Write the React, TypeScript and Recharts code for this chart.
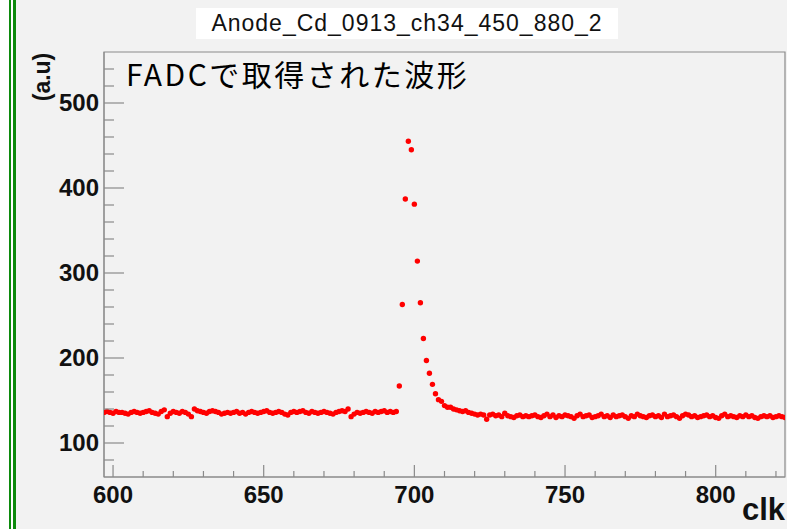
import { ScatterChart, Scatter, XAxis, YAxis, ReferenceArea } from "recharts";

// FADC samples, one per clock, starting at clk 597
const firstClk = 597;
const adc = [
  136, 137, 136, 135, 137, 136, 136, 135, 134, 136,
  137, 136, 135, 136, 137, 138, 136, 135, 134, 137,
  139, 131, 135, 137, 136, 135, 137, 136, 134, 131,
  140, 138, 137, 136, 135, 137, 138, 137, 136, 134,
  135, 136, 135, 136, 137, 135, 136, 134, 136, 137,
  136, 135, 136, 137, 138, 136, 135, 136, 137, 136,
  134, 133, 136, 137, 136, 137, 138, 136, 135, 137,
  136, 135, 136, 137, 136, 135, 134, 136, 137, 138,
  137, 140, 131, 134, 136, 135, 136, 137, 136, 135,
  137, 136, 137, 138, 136, 137, 136, 137, 167, 263,
  387, 455, 445, 381, 314, 265, 223, 197, 182, 169,
  158, 151, 149, 144, 142, 142, 140, 139, 138, 137,
  138, 136, 135, 134, 133, 134, 133, 128, 133, 134,
  132, 133, 131, 135, 132, 131, 130, 132, 133, 131,
  132, 131, 132, 133, 131, 130, 132, 134, 131, 133,
  130, 132, 131, 133, 132, 131, 129, 132, 134, 131,
  132, 133, 130, 131, 132, 134, 131, 132, 130, 133,
  131, 132, 133, 131, 129, 132, 131, 134, 132, 131,
  130, 132, 133, 131, 132, 130, 134, 131, 132, 133,
  131, 129, 132, 134, 133, 131, 132, 130, 131, 132,
  133, 131, 132, 130, 129, 132, 134, 131, 132, 131,
  130, 132, 131, 133, 131, 132, 130, 129, 131, 132,
  131, 132, 130, 131, 132, 131, 130,
];

const xTicks = [600, 610, 620, 630, 640, 650, 660, 670, 680, 690, 700, 710, 720, 730, 740, 750, 760, 770, 780, 790, 800, 810, 820];
const yTicks = [80, 100, 120, 140, 160, 180, 200, 220, 240, 260, 280, 300, 320, 340, 360, 380, 400, 420, 440, 460, 480, 500, 520, 540];

const data = adc.map((v, i) => ({ clk: firstClk + i, adc: v }));

const axisColor = "#8a8a8a";
const labelFont = "'Liberation Sans', Arial, sans-serif";

const YTick = (props: any) => {
  const { x, y, payload } = props;
  const major = payload.value % 100 === 0;
  return (
    <g>
      <line x1={x} x2={x + (major ? 20 : 10)} y1={y} y2={y} stroke={axisColor} strokeWidth={1.2} />
      {major && (
        <text x={x - 5} y={y + 8} textAnchor="end" fontFamily={labelFont} fontWeight="bold" fontSize={24} fill="#111">
          {payload.value}
        </text>
      )}
    </g>
  );
};

const XTick = (props: any) => {
  const { x, y, payload } = props;
  const major = payload.value % 50 === 0;
  return (
    <g>
      <line x1={x} x2={x} y1={y} y2={y - (major ? 12 : 6)} stroke={axisColor} strokeWidth={1.2} />
      {major && (
        <text x={x} y={y + 26} textAnchor="middle" fontFamily={labelFont} fontWeight="bold" fontSize={24} fill="#111">
          {payload.value}
        </text>
      )}
    </g>
  );
};

const App = () => {
  return (
    <div style={{ position: "absolute", left: 0, top: 0, width: 787, height: 529, background: "#f2f2f2", overflow: "hidden" }}>
      {/* green frame strip on the left */}
      <div style={{ position: "absolute", left: 0, top: 0, width: 16, height: 529, background: "#fff" }} />
      <div style={{ position: "absolute", left: 9, top: 0, width: 2, height: 529, background: "#0c8a0c" }} />
      <div style={{ position: "absolute", left: 13, top: 0, width: 3, height: 529, background: "#0c8a0c" }} />

      <ScatterChart width={787} height={529} margin={{ top: 52, right: 2, left: 0, bottom: 0 }}>
        <XAxis
          type="number"
          dataKey="clk"
          domain={[597, 823]}
          ticks={xTicks}
          interval={0}
          height={52}
          tickSize={0}
          tickMargin={0}
          tick={<XTick />}
          axisLine={{ stroke: axisColor }}
          allowDataOverflow
        />
        <YAxis
          type="number"
          dataKey="adc"
          domain={[60, 560]}
          ticks={yTicks}
          interval={0}
          width={104}
          tickSize={0}
          tickMargin={0}
          tick={<YTick />}
          axisLine={{ stroke: axisColor }}
          allowDataOverflow
        />
        <ReferenceArea x1={597} x2={823} y1={60} y2={560} fill="none" stroke={axisColor} strokeWidth={1.2} />
        <Scatter
          data={data}
          isAnimationActive={false}
          shape={(p: any) => <circle cx={p.cx} cy={p.cy} r={2.7} fill="#ff0000" />}
        />
      </ScatterChart>

      <div
        style={{
          position: "absolute", left: 196, top: 8, width: 422, height: 31, background: "#fff",
          fontFamily: labelFont, fontSize: 23, letterSpacing: 1, lineHeight: "31px", textAlign: "center", color: "#111",
        }}
      >
        Anode_Cd_0913_ch34_450_880_2
      </div>

      <div
        style={{
          position: "absolute", left: 126, top: 58, fontFamily: "'Noto Sans CJK JP', sans-serif",
          fontSize: 30, lineHeight: "30px", letterSpacing: 2.5, color: "#000", whiteSpace: "nowrap",
        }}
      >
        FADCで取得された波形
      </div>

      <div
        style={{
          position: "absolute", left: 42, top: 77, transform: "translate(-50%, -50%) rotate(-90deg)",
          fontFamily: labelFont, fontWeight: "bold", fontSize: 23, color: "#111", whiteSpace: "nowrap",
        }}
      >
        (a.u)
      </div>

      <div
        style={{
          position: "absolute", right: 2, top: 494, fontFamily: labelFont, fontWeight: "bold",
          fontSize: 31, lineHeight: "31px", color: "#111",
        }}
      >
        clk
      </div>
    </div>
  );
};

export default App;
